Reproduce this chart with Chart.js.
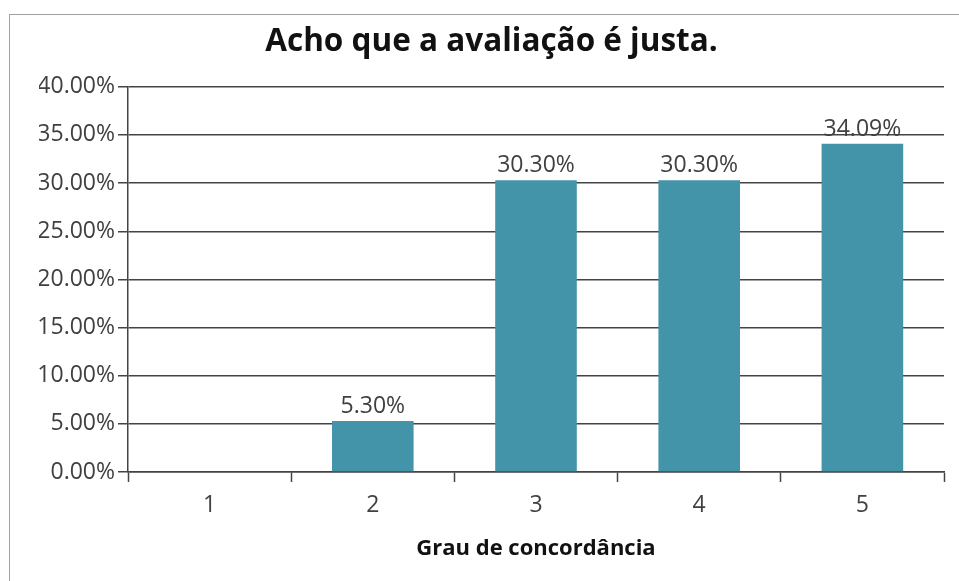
<!DOCTYPE html>
<html>
<head>
<meta charset="utf-8">
<script src="https://cdn.jsdelivr.net/npm/chart.js@4/dist/chart.umd.min.js"></script>
<style>
  html, body { margin: 0; padding: 0; background: #fff; }
  canvas { display: block; }
</style>
</head>
<body>
<canvas id="grafico" width="959" height="581"></canvas>
<script>
const titulo = "Acho que a avaliação é justa.";
const tituloEixoX = "Grau de concordância";
const categorias = ["1", "2", "3", "4", "5"];
const valores = [0, 5.30, 30.30, 30.30, 34.09]; // em %
const fonte = "'Open Sans', 'Noto Sans', sans-serif";
const corTexto = "#404040";
const corLinhas = "#444444";

// moldura cinza em volta do gráfico
const moldura = {
    id: "moldura",
    beforeDraw(chart) {
        const ctx = chart.ctx;
        ctx.save();
        ctx.fillStyle = "#fff";
        ctx.fillRect(0, 0, chart.width, chart.height);
        ctx.strokeStyle = "#a0a0a0";
        ctx.lineWidth = 1;
        ctx.strokeRect(9.5, 14.5, chart.width, chart.height);
        ctx.restore();
    }
};

// rótulos de dados em cima das barras
const rotulos = {
    id: "rotulos",
    afterDatasetsDraw(chart) {
        const ctx = chart.ctx;
        const meta = chart.getDatasetMeta(0);
        ctx.save();
        ctx.font = "23px " + fonte;
        ctx.fillStyle = corTexto;
        ctx.textAlign = "center";
        ctx.textBaseline = "alphabetic";
        meta.data.forEach((barra, i) => {
            const v = chart.data.datasets[0].data[i];
            if (!v) return;
            ctx.fillText(v.toFixed(2) + "%", barra.x, barra.y - 8);
        });
        ctx.restore();
    }
};

const ctx = document.getElementById("grafico").getContext("2d");

const chart = new Chart(ctx, {
    type: "bar",
    data: {
        labels: categorias,
        datasets: [{
            data: valores,
            backgroundColor: "#4393A9",
            borderWidth: 0,
            barPercentage: 0.5,
            categoryPercentage: 1.0
        }]
    },
    options: {
        responsive: false,
        animation: false,
        devicePixelRatio: 1,
        layout: {
            padding: { left: 39, right: 15, top: 0, bottom: 0 }
        },
        plugins: {
            legend: { display: false },
            tooltip: { enabled: false },
            title: {
                display: true,
                text: titulo,
                color: "#111",
                font: { family: fonte, size: 31.5, weight: "bold", lineHeight: 1.2 },
                padding: { top: 23, bottom: 26 }
            }
        },
        scales: {
            x: {
                afterFit(scale) { scale.height = 109; },
                grid: {
                    offset: true,
                    drawOnChartArea: true,
                    color: (c) => c.index === 5 ? "#c8c8c8" : "rgba(0,0,0,0)",
                    lineWidth: 1,
                    tickColor: corLinhas,
                    tickWidth: 1.5,
                    tickLength: 10
                },
                border: { color: corLinhas, width: 1.5 },
                ticks: {
                    color: corTexto,
                    padding: 10,
                    font: { family: fonte, size: 23 }
                },
                title: {
                    display: true,
                    text: tituloEixoX,
                    color: "#111",
                    font: { family: fonte, size: 22, weight: "bold", lineHeight: 1.2 },
                    padding: { top: 0, bottom: 19 }
                }
            },
            y: {
                min: 0,
                max: 40,
                afterFit(scale) { scale.width = 89; },
                grid: {
                    color: corLinhas,
                    lineWidth: 1.5,
                    tickLength: 10
                },
                border: { color: corLinhas, width: 1.5 },
                ticks: {
                    stepSize: 5,
                    color: corTexto,
                    padding: 3,
                    font: { family: fonte, size: 23 },
                    callback: (v) => v.toFixed(2) + "%"
                }
            }
        }
    },
    plugins: [moldura, rotulos]
});
</script>
</body>
</html>
